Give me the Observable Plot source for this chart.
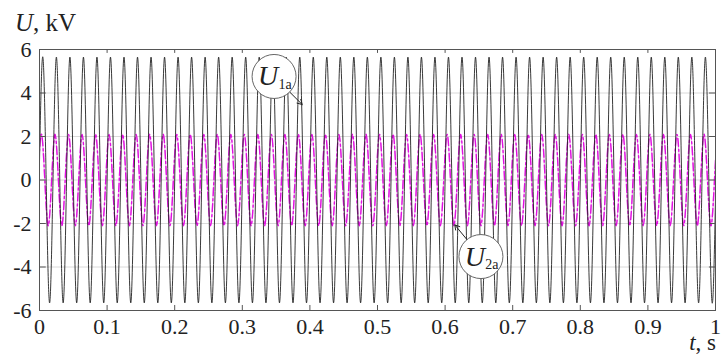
<!DOCTYPE html>
<html>
<head>
<meta charset="utf-8">
<script src="https://cdn.jsdelivr.net/npm/d3@7"></script>
<script src="https://cdn.jsdelivr.net/npm/@observablehq/plot@0.6"></script>
<style>
  html, body { margin: 0; padding: 0; background: #fff; }
  svg { display: block; }
  svg text { font-family: "Liberation Serif", "DejaVu Serif", serif; }
</style>
</head>
<body>
<div id="chart"></div>
<script>
// ---- data ----
const xTicks = [0, 0.1, 0.2, 0.3, 0.4, 0.5, 0.6, 0.7, 0.8, 0.9, 1];
const xTickLabels = ["0", "0.1", "0.2", "0.3", "0.4", "0.5", "0.6", "0.7", "0.8", "0.9", "1"];
const yTicks = [-6, -4, -2, 0, 2, 4, 6];
const yTickLabels = ["-6", "-4", "-2", "0", "2", "4", "6"];
const gridY = [-4, -2, 0, 2, 4];

// 50 Hz waveforms: period and time of first positive peak (s)
const period = 0.02;
const u1FirstPeak = 0.005;
const u2FirstPeak = 0.003;
// peak / trough values per cycle (kV), cycle -1 .. 50
const u1Peaks =   [5.65,5.65,5.65,5.65,5.65,5.65,5.65,5.65,5.65,5.65,5.65,5.65,5.65,5.65,5.65,5.65,5.65,5.65,5.65,5.65,5.65,5.65,5.65,5.65,5.65,5.65,5.65,5.65,5.65,5.65,5.65,5.65,5.65,5.65,5.65,5.65,5.65,5.65,5.65,5.65,5.65,5.65,5.65,5.65,5.65,5.65,5.65,5.65,5.65,5.65,5.65,5.65];
const u1Troughs = [-5.65,-5.65,-5.65,-5.65,-5.65,-5.65,-5.65,-5.65,-5.65,-5.65,-5.65,-5.65,-5.65,-5.65,-5.65,-5.65,-5.65,-5.65,-5.65,-5.65,-5.65,-5.65,-5.65,-5.65,-5.65,-5.65,-5.65,-5.65,-5.65,-5.65,-5.65,-5.65,-5.65,-5.65,-5.65,-5.65,-5.65,-5.65,-5.65,-5.65,-5.65,-5.65,-5.65,-5.65,-5.65,-5.65,-5.65,-5.65,-5.65,-5.65,-5.65,-5.65];
const u2Peaks =   [2.1,2.1,2.1,2.1,2.1,2.1,2.1,2.1,2.1,2.1,2.1,2.1,2.1,2.1,2.1,2.1,2.1,2.1,2.1,2.1,2.1,2.1,2.1,2.1,2.1,2.1,2.1,2.1,2.1,2.1,2.1,2.1,2.1,2.1,2.1,2.1,2.1,2.1,2.1,2.1,2.1,2.1,2.1,2.1,2.1,2.1,2.1,2.1,2.1,2.1,2.1,2.1];
const u2Troughs = [-2.1,-2.1,-2.1,-2.1,-2.1,-2.1,-2.1,-2.1,-2.1,-2.1,-2.1,-2.1,-2.1,-2.1,-2.1,-2.1,-2.1,-2.1,-2.1,-2.1,-2.1,-2.1,-2.1,-2.1,-2.1,-2.1,-2.1,-2.1,-2.1,-2.1,-2.1,-2.1,-2.1,-2.1,-2.1,-2.1,-2.1,-2.1,-2.1,-2.1,-2.1,-2.1,-2.1,-2.1,-2.1,-2.1,-2.1,-2.1,-2.1,-2.1,-2.1,-2.1];

// annotation callouts
const calloutNames = ["1a", "2a"];
const calloutX = [0.347, 0.653];
const calloutY = [4.76, -3.52];
const calloutTipX = [0.3886, 0.6143];
const calloutTipY = [3.47, -2.06];

// ---- build tables of extrema ----
function extrema(firstPeak, peaks, troughs) {
  const rows = [];
  peaks.forEach((p, i) => {
    const k = i - 1;
    rows.push({t: firstPeak + k * period, u: p});
    rows.push({t: firstPeak + k * period + period / 2, u: troughs[i]});
  });
  return rows;
}
const u1Rows = extrema(u1FirstPeak, u1Peaks, u1Troughs);
const u2Rows = extrema(u2FirstPeak, u2Peaks, u2Troughs);
const callouts = calloutNames.map((n, i) => ({name: n, x: calloutX[i], y: calloutY[i], tx: calloutTipX[i], ty: calloutTipY[i]}));

const serif = "Liberation Serif";
const axisColor = "#555";

const chart = Plot.plot({
  width: 721,
  height: 356,
  marginLeft: 39,
  marginRight: 6,
  marginTop: 49,
  marginBottom: 46,
  style: {fontFamily: serif, background: "white", color: "#222"},
  x: {domain: [0, 1]},
  y: {domain: [-6, 6]},
  marks: [
    Plot.ruleY(gridY, {stroke: "#d0d0d0", strokeWidth: 0.8}),
    Plot.line(u2Rows, {x: "t", y: "u", curve: "natural", stroke: "#f6b2f2", strokeWidth: 1.4, clip: true}),
    Plot.line(u2Rows, {x: "t", y: "u", curve: "natural", stroke: "#e010e0", strokeWidth: 1.4, strokeDasharray: "8,3,2,3", clip: true}),
    Plot.line(u1Rows, {x: "t", y: "u", curve: "natural", stroke: "#222", strokeWidth: 0.9, clip: true}),
    Plot.frame({stroke: axisColor, strokeWidth: 1}),
    // inward ticks
    Plot.ruleX(xTicks, {x: d => d, y1: -6, y2: -5.77, stroke: axisColor}),
    Plot.ruleX(xTicks, {x: d => d, y1: 6, y2: 5.82, stroke: axisColor}),
    Plot.ruleY(yTicks, {y: d => d, x1: 0, x2: 0.01, stroke: axisColor}),
    Plot.ruleY(yTicks, {y: d => d, x1: 0.991, x2: 1, stroke: axisColor}),
    Plot.axisX(xTicks, {tickSize: 0, tickPadding: 8, fontSize: 22, fontFamily: serif, label: null,
      tickFormat: d => xTickLabels[xTicks.indexOf(d)], fill: "#222"}),
    Plot.axisY(yTicks, {tickSize: 0, tickPadding: 8, fontSize: 22, fontFamily: serif, label: null,
      tickFormat: d => yTickLabels[yTicks.indexOf(d)], fill: "#222"}),
    // callouts
    Plot.arrow(callouts, {x1: "x", y1: "y", x2: "tx", y2: "ty", insetStart: 22, headLength: 8, stroke: "#222", strokeWidth: 1}),
    Plot.dot(callouts, {x: "x", y: "y", r: 22, fill: "white", stroke: "#666", strokeWidth: 1}),
    Plot.text(callouts, {x: "x", y: "y", text: () => "U", fontSize: 28, fontFamily: serif, fontStyle: "italic", dx: -6, dy: 0, fill: "#222"}),
    Plot.text(callouts, {x: "x", y: "y", text: "name", fontSize: 14, fontFamily: serif, dx: 11, dy: 8, fill: "#222"})
  ]
});

const svg = d3.select(chart);
const t1 = svg.append("text").attr("x", 15).attr("y", 31).attr("text-anchor", "start")
  .attr("font-family", serif).attr("font-size", 25).attr("fill", "#222");
t1.append("tspan").attr("font-style", "italic").text("U");
t1.append("tspan").text(", kV");
const t2 = svg.append("text").attr("x", 716).attr("y", 350).attr("text-anchor", "end")
  .attr("font-family", serif).attr("font-size", 23).attr("fill", "#222");
t2.append("tspan").attr("font-style", "italic").text("t");
t2.append("tspan").text(", s");

document.getElementById("chart").appendChild(chart);
</script>
</body>
</html>
